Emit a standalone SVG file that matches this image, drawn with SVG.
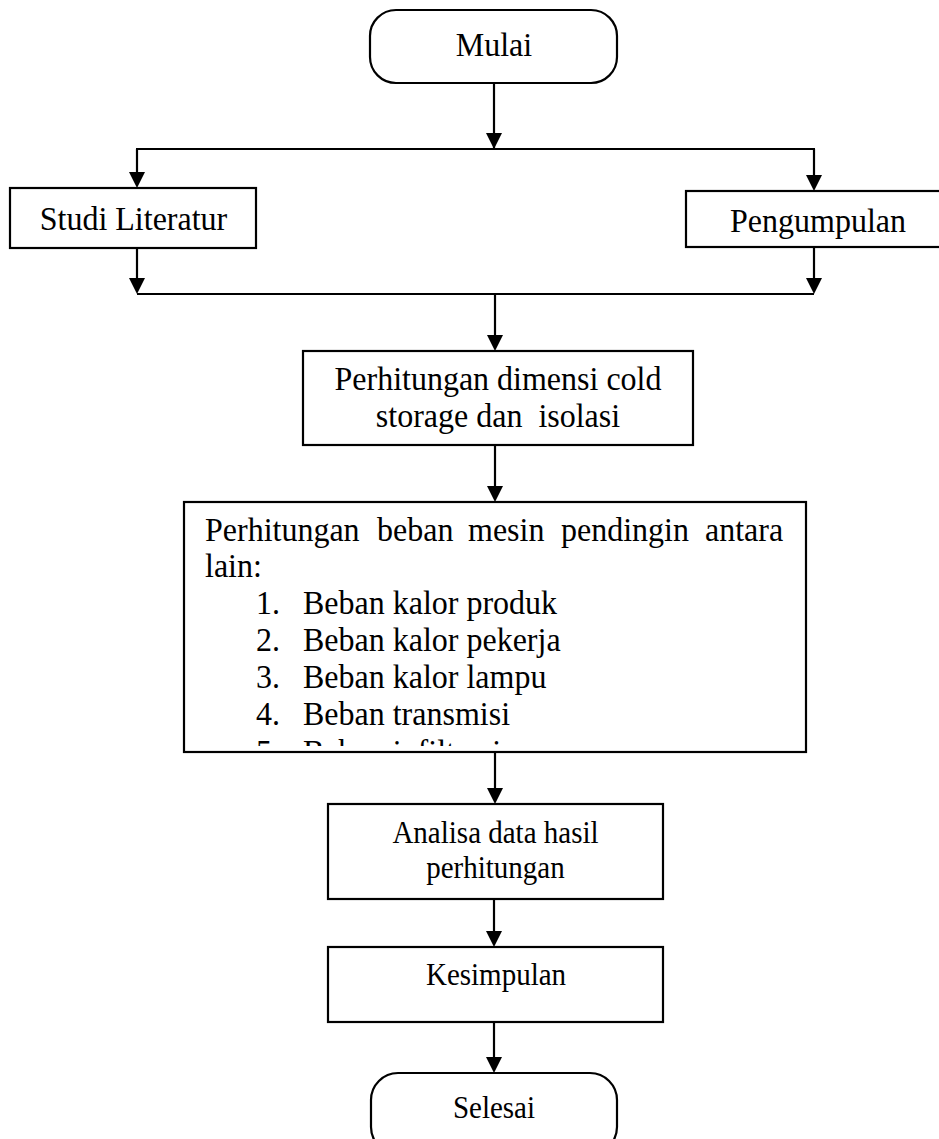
<svg xmlns="http://www.w3.org/2000/svg" width="939" height="1139" viewBox="0 0 939 1139">
<style>
.box{fill:#fff;stroke:#000;stroke-width:2.2}
.t{font-family:"Liberation Serif","Times New Roman",serif;fill:#000}
.l{font-size:32px}
.s{font-size:29px}
.c{text-anchor:middle}
.ln{fill:none;stroke:#000;stroke-width:2.2}
</style>
<defs>
<clipPath id="bigclip"><rect x="184" y="502" width="622" height="244"/></clipPath>
</defs>
<rect width="939" height="1139" fill="#fff"/>
<g id="connectors">
<line class="ln" x1="494" y1="83" x2="494" y2="148"/>
<path d="M486,133 L502,133 L494,149 Z"/>
<line class="ln" x1="136" y1="149" x2="815" y2="149"/>
<line class="ln" x1="137" y1="149" x2="137" y2="180"/>
<path d="M129,172 L145,172 L137,188 Z"/>
<line class="ln" x1="814" y1="149" x2="814" y2="183"/>
<path d="M806,175 L822,175 L814,191 Z"/>
<line class="ln" x1="137" y1="248" x2="137" y2="285"/>
<path d="M129,278 L145,278 L137,294 Z"/>
<line class="ln" x1="814" y1="247" x2="814" y2="285"/>
<path d="M806,278 L822,278 L814,294 Z"/>
<line class="ln" x1="137" y1="294" x2="814" y2="294"/>
<line class="ln" x1="495" y1="294" x2="495" y2="343"/>
<path d="M487,335 L503,335 L495,351 Z"/>
<line class="ln" x1="495" y1="445" x2="495" y2="494"/>
<path d="M487,486 L503,486 L495,502 Z"/>
<line class="ln" x1="495" y1="752" x2="495" y2="796"/>
<path d="M487,788 L503,788 L495,804 Z"/>
<line class="ln" x1="494" y1="899" x2="494" y2="939"/>
<path d="M486,931 L502,931 L494,947 Z"/>
<line class="ln" x1="494" y1="1022" x2="494" y2="1065"/>
<path d="M486,1057 L502,1057 L494,1073 Z"/>
</g>
<g id="mulai">
<rect class="box" x="370" y="10" width="247" height="73" rx="26" ry="26"/>
<text class="t l c" x="494" y="56" transform="matrix(1 0 0 1.08 0 -4.48)">Mulai</text>
</g>
<g id="studi">
<rect class="box" x="10" y="188" width="246" height="60"/>
<text class="t l c" x="133.5" y="230" transform="matrix(1 0 0 1.08 0 -18.4)">Studi Literatur</text>
</g>
<g id="pengumpulan">
<rect class="box" x="686" y="191" width="270" height="56"/>
<text class="t l c" x="818" y="232" transform="matrix(1 0 0 1.08 0 -18.56)">Pengumpulan</text>
</g>
<g id="dimensi">
<rect class="box" x="303" y="351" width="390" height="94"/>
<text class="t l c" x="498" y="390" transform="matrix(1 0 0 1.08 0 -31.2)">Perhitungan dimensi cold</text>
<text class="t l c" x="498" y="427" xml:space="preserve" transform="matrix(1 0 0 1.08 0 -34.16)">storage dan  isolasi</text>
</g>
<g id="beban">
<rect class="box" x="184" y="502" width="622" height="250"/>
<text class="t l" y="541" transform="matrix(1 0 0 1.08 0 -43.28)"><tspan x="205">Perhitungan</tspan><tspan x="377">beban</tspan><tspan x="468">mesin</tspan><tspan x="561">pendingin</tspan><tspan x="705">antara</tspan></text>
<text class="t l" x="205" y="577" transform="matrix(1 0 0 1.08 0 -46.16)">lain:</text>
<text class="t l" y="614" transform="matrix(1 0 0 1.08 0 -49.12)"><tspan x="256">1.</tspan><tspan x="303">Beban kalor produk</tspan></text>
<text class="t l" y="651" transform="matrix(1 0 0 1.08 0 -52.08)"><tspan x="256">2.</tspan><tspan x="303">Beban kalor pekerja</tspan></text>
<text class="t l" y="688" transform="matrix(1 0 0 1.08 0 -55.04)"><tspan x="256">3.</tspan><tspan x="303">Beban kalor lampu</tspan></text>
<text class="t l" y="725" transform="matrix(1 0 0 1.08 0 -58)"><tspan x="256">4.</tspan><tspan x="303">Beban transmisi</tspan></text>
<g clip-path="url(#bigclip)">
<text class="t l" y="763" transform="matrix(1 0 0 1.08 0 -61.04)"><tspan x="256">5.</tspan><tspan x="303">Beban infiltrasi</tspan></text>
</g>
</g>
<g id="analisa">
<rect class="box" x="328" y="804" width="335" height="95"/>
<text class="t s c" x="495.5" y="843" transform="matrix(1 0 0 1.08 0 -67.44)">Analisa data hasil</text>
<text class="t s c" x="495.5" y="878" transform="matrix(1 0 0 1.08 0 -70.24)">perhitungan</text>
</g>
<g id="kesimpulan">
<rect class="box" x="328" y="947" width="335" height="75"/>
<text class="t s c" x="496" y="985" transform="matrix(1 0 0 1.08 0 -78.8)">Kesimpulan</text>
</g>
<g id="selesai">
<rect class="box" x="371" y="1073" width="246" height="81" rx="27" ry="27"/>
<text class="t s c" x="494" y="1118" transform="matrix(1 0 0 1.08 0 -89.44)">Selesai</text>
</g>
</svg>
